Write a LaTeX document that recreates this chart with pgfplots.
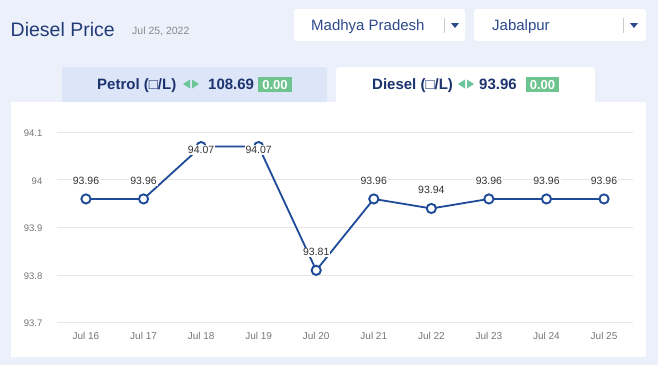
\documentclass[border=0pt]{standalone}
\usepackage{pgfplots}
\pgfplotsset{compat=1.18}
\usepackage{pgfplotstable}
\usepackage{fontspec}
\setmainfont{Liberation Sans}
\definecolor{bg}{HTML}{EBF0FA}
\definecolor{tabblue}{HTML}{DCE6F8}
\definecolor{navy}{HTML}{213B78}
\definecolor{tabnavy}{HTML}{1D3370}
\definecolor{ddtext}{HTML}{2C4A8C}
\definecolor{greenarrow}{HTML}{6CC59A}
\definecolor{badge}{HTML}{6EC48F}
\definecolor{linecol}{HTML}{1E4A98}
\definecolor{tickgray}{HTML}{777777}
\definecolor{datelabel}{HTML}{8A8A8A}
\definecolor{labtext}{HTML}{333333}
\definecolor{gridgray}{HTML}{E6E6E6}

\pgfplotstableread{
x y dy lab
0 93.96 18 93.96
1 93.96 18 93.96
2 94.07 -3.5 94.07
3 94.07 -3.5 94.07
4 93.81 18 93.81
5 93.96 18 93.96
6 93.94 19 93.94
7 93.96 18 93.96
8 93.96 18 93.96
9 93.96 18 93.96
}\dieseldata

\begin{document}
\begin{tikzpicture}[x=1pt,y=1pt]
\useasboundingbox (0,0) rectangle (658,-365);
\fill[bg] (0,0) rectangle (658,-365);
% panel and tabs
\fill[white] (11,-102) rectangle (646,-357);
\fill[tabblue, rounded corners=3pt] (62,-67) -- (327,-67) -- (327,-102) [sharp corners]-- (62,-102) -- cycle;
\fill[tabblue] (62,-95) rectangle (327,-102);
\fill[white, rounded corners=3pt] (336,-67) -- (595,-67) -- (595,-102) -- (336,-102) -- cycle;
\fill[white] (336,-95) rectangle (595,-103);
% header
\node[anchor=base west, inner sep=0pt, font=\fontsize{19.5}{22}\selectfont, text=navy] at (10.5,-36) {Diesel Price};
\node[anchor=base west, inner sep=0pt, font=\fontsize{10.5}{12}\selectfont, text=datelabel] at (132,-34.3) {Jul 25, 2022};
% dropdowns
\fill[white, rounded corners=3pt] (294,-9) rectangle (465,-41);
\node[anchor=base west, inner sep=0pt, font=\fontsize{15}{17}\selectfont, text=ddtext] at (311,-30.5) {Madhya Pradesh};
\draw[black!20, line width=0.8pt] (444,-18) -- (444,-33);
\fill[ddtext] (451,-23) -- (459,-23) -- (455,-28) -- cycle;
\fill[white, rounded corners=3pt] (474,-9) rectangle (646,-41);
\node[anchor=base west, inner sep=0pt, font=\fontsize{15}{17}\selectfont, text=ddtext] at (492,-30.5) {Jabalpur};
\draw[black!20, line width=0.8pt] (623,-18) -- (623,-33);
\fill[ddtext] (630,-23) -- (638,-23) -- (634,-28) -- cycle;
% petrol tab
\node[anchor=base west, inner sep=0pt, font=\fontsize{15}{17}\bfseries\selectfont, text=tabnavy] at (97,-89.3) {Petrol (□/L)};
\fill[greenarrow] (183,-84) -- (190,-79.5) -- (190,-88.5) -- cycle;
\fill[greenarrow] (192,-79.5) -- (199,-84) -- (192,-88.5) -- cycle;
\node[anchor=base west, inner sep=0pt, font=\fontsize{15}{17}\bfseries\selectfont, text=tabnavy] at (208,-89.3) {108.69};
\fill[badge] (258,-76.7) rectangle (292,-92.3);
\node[anchor=base, inner sep=0pt, font=\fontsize{13}{15}\bfseries\selectfont, text=white] at (275,-89) {0.00};
% diesel tab
\node[anchor=base west, inner sep=0pt, font=\fontsize{15}{17}\bfseries\selectfont, text=tabnavy] at (372,-89.3) {Diesel (□/L)};
\fill[greenarrow] (458,-84) -- (465,-79.5) -- (465,-88.5) -- cycle;
\fill[greenarrow] (467,-79.5) -- (474,-84) -- (467,-88.5) -- cycle;
\node[anchor=base west, inner sep=0pt, font=\fontsize{15}{17}\bfseries\selectfont, text=tabnavy] at (479,-89.3) {93.96};
\fill[badge] (526,-76.7) rectangle (559,-92.3);
\node[anchor=base, inner sep=0pt, font=\fontsize{13}{15}\bfseries\selectfont, text=white] at (542.5,-89) {0.00};

\begin{axis}[
  at={(57.2pt,-322.7pt)}, anchor=south west,
  scale only axis, width=575.6pt, height=190.4pt,
  xmin=-0.5, xmax=9.5, ymin=93.7, ymax=94.1,
  clip=false,
  axis line style={draw=none},
  major tick length=0pt,
  ymajorgrids, grid style={gridgray, line width=0.9pt},
  ytick={93.7,93.8,93.9,94,94.1},
  yticklabels={93.7,93.8,93.9,94,94.1},
  xtick={0,1,2,3,4,5,6,7,8,9},
  xticklabels={Jul 16,Jul 17,Jul 18,Jul 19,Jul 20,Jul 21,Jul 22,Jul 23,Jul 24,Jul 25},
  /pgf/number format/assume math mode=true,
  yticklabel style={anchor=east, inner sep=0pt, xshift=-14.7pt, yshift=-1pt, font=\fontsize{9.5}{11}\selectfont, text=tickgray},
  xticklabel style={anchor=north, inner sep=0pt, yshift=-9.3pt, font=\fontsize{10}{12}\selectfont, text=tickgray},
]
\addplot[color=linecol, line width=1.8pt, mark=*, mark size=4.6pt,
  mark options={fill=white, draw=linecol, line width=1.9pt},
  point meta=explicit symbolic,
  visualization depends on={\thisrow{dy} \as \dy},
  nodes near coords,
  every node near coord/.append style={anchor=center, yshift=\dy pt, inner sep=1pt, fill=white, font=\fontsize{10.5}{12}\selectfont, text=labtext},
] table[x=x, y=y, meta=lab] {\dieseldata};
\end{axis}
\end{tikzpicture}
\end{document}
